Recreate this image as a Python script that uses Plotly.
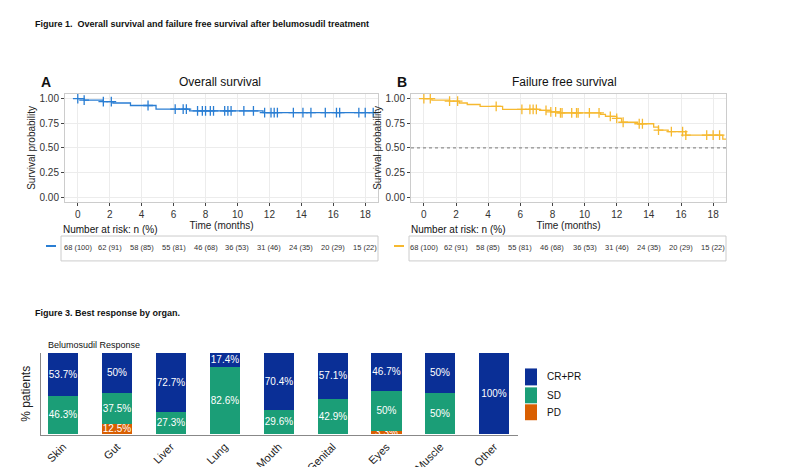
import plotly.graph_objects as go

W, H = 788, 467
# ---- data ----
os_t = [0, 0.4, 1.6, 2.2, 3.3, 4.9, 7.0, 11.6, 18.8]
os_s = [1.0, 0.985, 0.97, 0.955, 0.93, 0.893, 0.875, 0.857, 0.857]
os_cens = [0, 0.4, 1.6, 2.1, 4.4, 6.1, 6.6, 6.8, 7.5, 7.8, 8.0, 8.3, 8.5, 9.2, 9.4, 9.6,
           10.4, 11.0, 11.7, 12.1, 12.3, 12.5, 13.5, 14.1, 14.6, 15.5, 16.2, 16.4, 17.6, 18.0, 18.5]
ffs_t = [0, 0.5, 1.6, 2.2, 2.7, 3.5, 4.9, 7.2, 7.9, 8.5, 11.0, 11.3, 12.0, 12.3, 13.3, 14.3,
         14.6, 15.2, 16.3, 18.6, 18.8]
ffs_s = [1.0, 0.985, 0.975, 0.955, 0.94, 0.92, 0.89, 0.88, 0.865, 0.855, 0.84, 0.82, 0.80,
         0.76, 0.745, 0.71, 0.68, 0.665, 0.63, 0.59, 0.59]
ffs_cens = [0, 0.4, 1.6, 2.1, 4.5, 6.1, 6.6, 6.8, 7.0, 7.6, 7.9, 8.2, 8.5, 8.6, 9.2, 9.5, 9.6,
            10.3, 10.9, 11.6, 12.0, 12.4, 13.4, 13.6, 14.6, 15.4, 16.1, 16.3, 17.6, 18.0, 18.4]
risk_times = [0, 2, 4, 6, 8, 10, 12, 14, 16, 18]
risk_labels = ["68 (100)", "62 (91)", "58 (85)", "55 (81)", "46 (68)", "36 (53)",
               "31 (46)", "24 (35)", "20 (29)", "15 (22)"]
organs = ["Skin", "Gut", "Liver", "Lung", "Mouth", "Genital", "Eyes", "Muscle", "Other"]
cr_pr = [53.7, 50, 72.7, 17.4, 70.4, 57.1, 46.7, 50, 100]
sd = [46.3, 37.5, 27.3, 82.6, 29.6, 42.9, 50, 50, 0]
pd_ = [0, 12.5, 0, 0, 0, 0, 3.3, 0, 0]

BLUE, ORANGE = "#2a7ed3", "#f6b930"
C_CR, C_SD, C_PD = "#0a2f96", "#1b9e77", "#d95f02"

def step_at(ts, ss, t):
    v = ss[0]
    for a, b in zip(ts, ss):
        if a <= t:
            v = b
    return v

def px(x): return x / W
def py(y): return 1 - y / H

fig = go.Figure()
for ts, ss, cens, col, xa, ya in [(os_t, os_s, os_cens, BLUE, "x", "y"),
                                   (ffs_t, ffs_s, ffs_cens, ORANGE, "x2", "y2")]:
    fig.add_trace(go.Scatter(x=ts, y=ss, mode="lines", line=dict(color=col, width=1.3, shape="hv"),
                             xaxis=xa, yaxis=ya, showlegend=False))
    fig.add_trace(go.Scatter(x=cens, y=[step_at(ts, ss, c) for c in cens], mode="markers",
                             marker=dict(symbol="cross-thin", size=7, line=dict(color=col, width=1.3)),
                             xaxis=xa, yaxis=ya, showlegend=False))
fig.add_trace(go.Scatter(x=[-0.8, 18.8], y=[0.5, 0.5], mode="lines",
                         line=dict(color="#777", width=1, dash="dot"), xaxis="x2", yaxis="y2", showlegend=False))

def fmt(v):
    return ("%g%%" % v) if v > 0 else ""
for name, vals, col in [("PD", pd_, C_PD), ("SD", sd, C_SD), ("CR+PR", cr_pr, C_CR)]:
    fig.add_trace(go.Bar(x=organs, y=vals, marker=dict(color=col, line=dict(width=0)), width=0.56,
                         text=[fmt(v) for v in vals], textposition="inside", insidetextanchor="middle",
                         constraintext="none", textangle=0,
                         textfont=dict(color="white", size=10, family="Arial"),
                         xaxis="x3", yaxis="y3", showlegend=False, name=name))

km_x = dict(range=[-0.8, 18.8], tickvals=risk_times, ticks="outside", ticklen=3, tickcolor="#444",
            showgrid=True, gridcolor="#ececec", zeroline=False, showline=True, linecolor="#ccc", mirror=True,
            tickfont=dict(size=10, family="Arial", color="#333"),
            title=dict(text="Time (months)", font=dict(size=10, family="Arial", color="#222"), standoff=2))
km_y = dict(range=[-0.05, 1.05], tickvals=[0, 0.25, 0.5, 0.75, 1], ticktext=["0.00", "0.25", "0.50", "0.75", "1.00"],
            ticks="outside", ticklen=3, tickcolor="#444", showgrid=True, gridcolor="#ececec", zeroline=False,
            showline=True, linecolor="#ccc", mirror=True, tickfont=dict(size=10, family="Arial", color="#333"),
            title=dict(text="Survival probability", font=dict(size=10, family="Arial", color="#222"), standoff=2))
yd = [py(194), py(85)]
fig.update_layout(
    width=W, height=H, margin=dict(l=0, r=0, t=0, b=0), paper_bgcolor="white", plot_bgcolor="white",
    xaxis=dict(domain=[px(57), px(370)], anchor="y", **km_x),
    yaxis=dict(domain=yd, anchor="x", **km_y),
    xaxis2=dict(domain=[px(403), px(718)], anchor="y2", **km_x),
    yaxis2=dict(domain=yd, anchor="x2", **km_y),
    xaxis3=dict(domain=[px(33), px(510)], anchor="y3", range=[-0.41, 8.44], showline=True, linecolor="#888",
                tickangle=-45, tickfont=dict(size=11, family="Arial", color="#222"), ticks=""),
    yaxis3=dict(domain=[py(428), py(345)], anchor="x3", range=[-2.5, 100], showline=True, linecolor="#888",
                showticklabels=False, showgrid=False, zeroline=False, ticks="",
                title=dict(text="% patients", font=dict(size=12, family="Arial", color="#222"), standoff=6)),
    barmode="stack", bargap=0,
)

ann = []
def A(x, y, t, size=10, bold=False, xa="left", color="#111"):
    ann.append(dict(x=px(x), y=py(y), xref="paper", yref="paper", text=("<b>%s</b>" % t) if bold else t,
                    showarrow=False, xanchor=xa, yanchor="middle", font=dict(size=size, family="Arial", color=color)))
A(25, 15, "Figure 1.  Overall survival and failure free survival after belumosudil treatment", 9, True)
A(31, 73, "A", 14, True); A(212, 73, "Overall survival", 12, xa="center")
A(387, 73, "B", 14, True); A(556, 73, "Failure free survival", 12, xa="center")
A(53, 221, "Number at risk: n (%)", 10); A(401, 221, "Number at risk: n (%)", 10)
A(25, 305, "Figure 3. Best response by organ.", 9, True)
A(38, 337, "Belumosudil Response", 9)
A(537, 369, "CR+PR", 10); A(537, 388, "SD", 10); A(537, 405, "PD", 10)
for t, lab in zip(risk_times, risk_labels):
    for xr in ["x", "x2"]:
        ann.append(dict(x=t, y=py(240), xref=xr, yref="paper", text=lab, showarrow=False,
                        font=dict(size=7.5, family="Arial", color="#333")))
fig.update_layout(annotations=ann)

shapes = []
for x0, x1, col in [(53, 370, BLUE), (401, 718, ORANGE)]:
    shapes.append(dict(type="rect", xref="paper", yref="paper", x0=px(x0), x1=px(x1), y0=py(253), y1=py(228),
                       line=dict(color="#ccc", width=1)))
    shapes.append(dict(type="line", xref="paper", yref="paper", x0=px(x0 - 15), x1=px(x0 - 5), y0=py(238), y1=py(238),
                       line=dict(color=col, width=2)))
for y0, y1, col in [(361, 378, C_CR), (380, 396, C_SD), (397, 413, C_PD)]:
    shapes.append(dict(type="rect", xref="paper", yref="paper", x0=px(517), x1=px(529), y0=py(y1), y1=py(y0),
                       fillcolor=col, line=dict(width=0)))
fig.update_layout(shapes=shapes)
fig.write_html("out.html")
